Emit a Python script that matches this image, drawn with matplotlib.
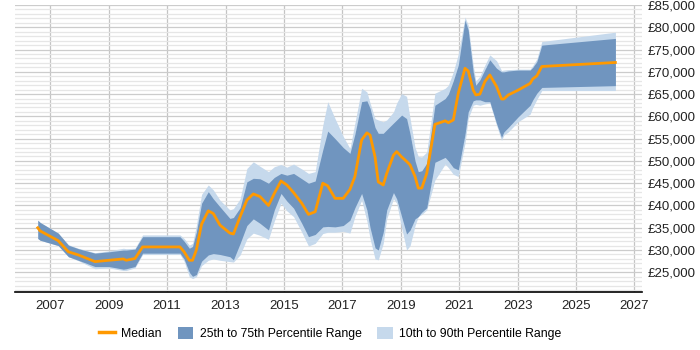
import matplotlib
matplotlib.use("Agg")
import matplotlib.pyplot as plt
from matplotlib.lines import Line2D
from matplotlib.patches import Patch
from matplotlib.ticker import MultipleLocator, FuncFormatter

years = [2006.57, 2006.65, 2007.27, 2007.62, 2007.96, 2008.53, 2009.0, 2009.5, 2009.6, 2009.9,
         2010.16, 2011.44, 2011.58, 2011.76, 2011.87, 2012.0, 2012.18, 2012.41, 2012.58, 2012.81,
         2013.15, 2013.27, 2013.5, 2013.73, 2013.95, 2014.18, 2014.47, 2014.67, 2014.9, 2015.1,
         2015.33, 2015.61, 2015.84, 2016.07, 2016.33, 2016.5, 2016.75, 2017.03, 2017.26, 2017.43,
         2017.66, 2017.84, 2017.95, 2018.12, 2018.23, 2018.4, 2018.52, 2018.75, 2018.86, 2019.03,
         2019.2, 2019.32, 2019.49, 2019.6, 2019.72, 2019.89, 2020.17, 2020.52, 2020.63, 2020.8,
         2020.97, 2021.2, 2021.31, 2021.48, 2021.57, 2021.71, 2021.88, 2022.05, 2022.28, 2022.45,
         2022.53, 2022.68, 2023.02, 2023.43, 2023.52, 2023.66, 2023.83, 2026.35]

median = [35000, 34300, 32100, 29600, 28900, 27400, 27700, 28000, 27700, 28100,
          30700, 30700, 29600, 27700, 27700, 30000, 35800, 38800, 38200, 35600,
          33800, 33600, 37500, 41200, 42600, 42000, 40000, 42700, 45500, 44600,
          42900, 40500, 38000, 38600, 45000, 44400, 41600, 41600, 43600, 46500,
          54700, 56300, 55800, 50900, 45300, 44600, 47200, 51300, 52100, 50900,
          49900, 49100, 46500, 43900, 43900, 47200, 58200, 59000, 58600, 59200,
          65200, 70800, 70200, 65900, 64800, 65000, 67800, 69300, 66700, 63900,
          63900, 64800, 65900, 67400, 68400, 69100, 71200, 72100]

p75 = [36700, 36200, 33800, 31100, 30300, 29300, 29600, 30000, 30000, 30200,
       33000, 33000, 32000, 30400, 30800, 34000, 40500, 43100, 41500, 39700,
       37100, 37300, 39500, 45300, 46100, 46000, 45000, 46300, 47200, 46800,
       47200, 46000, 45000, 45500, 52500, 56700, 55000, 53000, 51700, 56000,
       63300, 63500, 61800, 57500, 56200, 56200, 57000, 58500, 59200, 60300,
       59500, 56000, 50000, 47600, 47800, 49500, 62500, 64000, 65000, 68000,
       71500, 81600, 79400, 70000, 67000, 68200, 70500, 72700, 70800, 70000,
       70000, 70200, 70400, 70400, 71000, 72300, 76000, 77500]

p90 = [36700, 36200, 33800, 31200, 30400, 29400, 29800, 30400, 30300, 30400,
       33400, 33400, 32600, 31100, 31500, 35500, 42500, 44600, 43500, 41200,
       39000, 39300, 41500, 48300, 49800, 48800, 47600, 48700, 49200, 48600,
       49300, 48200, 47200, 47600, 58000, 63300, 59500, 55500, 52800, 58500,
       66300, 65500, 63000, 59500, 59200, 58800, 59200, 61000, 63000, 65100,
       64500, 59500, 53000, 51000, 50900, 52000, 65200, 66300, 67000, 70000,
       74000, 82300, 80500, 71500, 68000, 69000, 71500, 73800, 72500, 70300,
       70400, 70500, 70600, 70600, 71400, 72900, 76800, 78900]

p25 = [32600, 32200, 31000, 28500, 27700, 26300, 26300, 25700, 25800, 26300,
       29300, 29300, 28000, 25000, 24100, 24500, 27500, 28900, 29200, 29000,
       28500, 27800, 31500, 35500, 37000, 36000, 34500, 39000, 42700, 41000,
       39400, 36000, 33000, 33500, 35200, 35300, 35200, 35500, 36700, 39500,
       42700, 39000, 35000, 30500, 30000, 34000, 39000, 42900, 41500, 37500,
       33600, 34500, 37000, 37500, 38500, 39500, 49700, 50800, 50000, 48500,
       48000, 56000, 61000, 63500, 63700, 63700, 63300, 63300, 58400, 55300,
       56500, 57500, 59900, 62500, 63700, 65200, 66500, 66900]

p10 = [32600, 32200, 31000, 28500, 27600, 25800, 26000, 25400, 25400, 26000,
       29000, 29000, 27500, 24000, 23600, 24000, 26500, 27700, 28000, 27700,
       27400, 27300, 28900, 32500, 33800, 33300, 32400, 36500, 40500, 38800,
       37500, 34000, 30900, 31500, 33700, 34000, 34000, 34200, 33800, 37500,
       41200, 36500, 32500, 28000, 27800, 31500, 37000, 41500, 40500, 35000,
       30000, 31000, 35500, 37500, 38000, 39000, 45700, 49300, 48500, 47000,
       46500, 54000, 59500, 62500, 62700, 62500, 62800, 63000, 58000, 54600,
       55800, 56500, 58800, 60500, 62000, 63800, 65800, 65800]

x_ticks = [2007, 2009, 2011, 2013, 2015, 2017, 2019, 2021, 2023, 2025, 2027]

plt.rcParams['font.family'] = ['Liberation Sans', 'DejaVu Sans']

fig = plt.figure(figsize=(7, 3.5), dpi=100)
ax = fig.add_axes([0.0214, 0.1657, 0.8957, 0.82])

light = '#c6d9ec'
dark = '#7095bf'
orange = '#ff9900'

ax.fill_between(years, p10, p90, color=light, lw=0, zorder=2)
ax.fill_between(years, p25, p75, color=dark, lw=0, zorder=3)
ax.plot(years, median, color=orange, lw=2, zorder=4)

ax.set_xlim(2005.79, 2027.26)
ax.set_ylim(20580, 85000)
ax.set_xticks(x_ticks)
ax.set_xticklabels([str(t) for t in x_ticks])
ax.yaxis.set_major_locator(MultipleLocator(5000))
ax.yaxis.set_minor_locator(MultipleLocator(1000))
ax.yaxis.set_major_formatter(FuncFormatter(lambda v, p: '£{:,.0f}'.format(v)))
ax.set_yticks([v for v in range(25000, 85001, 5000)])
ax.yaxis.tick_right()
ax.tick_params(axis='y', which='both', length=0, labelsize=9.5, pad=4, colors='#222222')
ax.tick_params(axis='x', length=0, labelsize=9.5, pad=6, colors='#222222')

ax.grid(axis='y', which='major', color='#cccccc', lw=0.9, zorder=0)
ax.grid(axis='y', which='minor', color='#e6e6e6', lw=0.9, zorder=0)
ax.grid(axis='x', which='major', color='#c4c4c4', lw=0.9, zorder=0)
ax.set_axisbelow(True)

for s in ['top', 'left', 'right']:
    ax.spines[s].set_visible(False)
ax.spines['bottom'].set_color('#000000')
ax.spines['bottom'].set_linewidth(1.2)

handles = [Line2D([0], [0], color=orange, lw=2.5),
           Patch(facecolor=dark, edgecolor='none'),
           Patch(facecolor=light, edgecolor='none')]
labels = ['Median', '25th to 75th Percentile Range', '10th to 90th Percentile Range']
fig.legend(handles, labels, loc='center', bbox_to_anchor=(0.472, 0.047), ncol=3,
           frameon=False, fontsize=8.8, handlelength=1.3, handleheight=1.1,
           columnspacing=1.3, handletextpad=0.5)

fig.savefig('out.png', dpi=100)
